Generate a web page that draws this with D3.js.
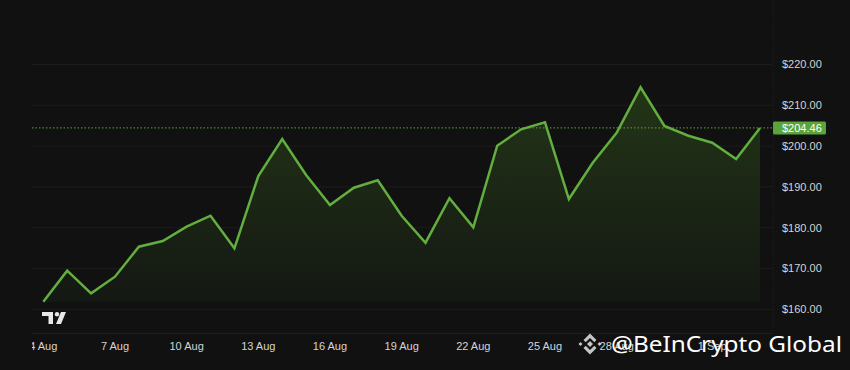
<!DOCTYPE html>
<html><head><meta charset="utf-8">
<script src="https://cdn.jsdelivr.net/npm/d3@7/dist/d3.min.js"></script>
<style>
html,body{margin:0;padding:0;background:#111111;}
svg{display:block;}
</style></head>
<body><svg id="c" width="850" height="370"></svg>
<script>
// Daily close prices, 4 Aug .. 3 Sep
const startDate = "2024-08-04";
const prices = [161.86,169.46,163.92,167.99,175.34,176.74,180.25,182.94,174.95,192.67,
  201.74,192.92,185.56,189.80,191.62,182.94,176.32,187.21,180.10,200.10,
  204.12,205.83,187.03,195.93,203.28,214.41,204.93,202.55,200.83,196.84,204.46];
const lastPrice = 204.46;
const yTicks = [160,170,180,190,200,210,220];
const xTickDates = ["2024-08-04","2024-08-07","2024-08-10","2024-08-13","2024-08-16","2024-08-19","2024-08-22","2024-08-25","2024-08-28","2024-09-01"];
const xTickLabels = ["4 Aug","7 Aug","10 Aug","13 Aug","16 Aug","19 Aug","22 Aug","25 Aug","28 Aug","1 Sep"];
const watermark = "@BeInCrypto Global";

const parse = d3.utcParse("%Y-%m-%d");
const t0 = parse(startDate);
const data = prices.map((v,i)=>({d:d3.utcDay.offset(t0,i), v}));

const svg = d3.select("#c");
const L = 32, R = 773, B = 333;
const x = d3.scaleUtc().domain([data[0].d, data[data.length-1].d]).range([43.3, 760]);
const y = d3.scaleLinear().domain([160,220]).range([309.3, 64.5]);

const defs = svg.append("defs");
defs.append("clipPath").attr("id","pane").append("rect").attr("x",L).attr("y",0).attr("width",R-L).attr("height",B);
const g = defs.append("linearGradient").attr("id","fill").attr("x1",0).attr("x2",0)
  .attr("gradientUnits","userSpaceOnUse").attr("y1",y(214.41)).attr("y2",y(d3.min(prices)));
g.append("stop").attr("offset","0%").attr("stop-color","#233517");
g.append("stop").attr("offset","100%").attr("stop-color","#141813");

// grid
svg.append("g").selectAll("line").data(yTicks).join("line")
  .attr("x1",L).attr("x2",R).attr("y1",d=>y(d)).attr("y2",d=>y(d))
  .attr("stroke","#1c1c1c").attr("stroke-width",1);
svg.append("line").attr("x1",L).attr("x2",R).attr("y1",333.5).attr("y2",333.5).attr("stroke","#1e1e1e");
svg.append("line").attr("x1",R+0.5).attr("x2",R+0.5).attr("y1",0).attr("y2",333).attr("stroke","#1e1e1e").attr("stroke-dasharray","1,2");

const pane = svg.append("g").attr("clip-path","url(#pane)");
const baseV = d3.min(prices);
pane.append("path").datum(data)
  .attr("d", d3.area().x(d=>x(d.d)).y0(y(baseV)).y1(d=>y(d.v)))
  .attr("fill","url(#fill)");
pane.append("line").attr("x1",L).attr("x2",R).attr("y1",y(lastPrice)).attr("y2",y(lastPrice))
  .attr("stroke","#5ea83a").attr("stroke-width",1).attr("stroke-dasharray","1.5,2");
pane.append("path").datum(data)
  .attr("d", d3.line().x(d=>x(d.d)).y(d=>y(d.v)))
  .attr("fill","none").attr("stroke","#62ae3e").attr("stroke-width",2.5).attr("stroke-linejoin","miter");

const font = "'Liberation Sans', Arial, sans-serif";
svg.append("g").selectAll("text").data(yTicks).join("text")
  .attr("x",782).attr("y",d=>y(d)).attr("dy","0.35em")
  .attr("font-family",font).attr("font-size",11).attr("fill","#d4d4d4")
  .text(d=>"$"+d3.format(".2f")(d));
svg.append("rect").attr("x",773).attr("y",y(lastPrice)-6.5).attr("width",53).attr("height",13).attr("rx",1.5).attr("fill","#5ba33b");
svg.append("text").attr("x",782).attr("y",y(lastPrice)).attr("dy","0.36em")
  .attr("font-family",font).attr("font-size",11).attr("fill","#ffffff").text("$"+d3.format(".2f")(lastPrice));

defs.append("clipPath").attr("id","pane2").append("rect").attr("x",L).attr("y",330).attr("width",R-L).attr("height",40);
const xg = svg.append("g").attr("clip-path","url(#pane2)");
xg.selectAll("text").data(xTickDates).join("text")
  .attr("x",d=>x(parse(d))).attr("y",346).attr("dy","0.35em").attr("text-anchor","middle")
  .attr("font-family",font).attr("font-size",11).attr("fill","#d4d4d4")
  .text((d,i)=>xTickLabels[i]);

const tv = svg.append("g").attr("fill","#e8e8e8");
tv.append("path").attr("d","M42,312 h11 v12 h-4.5 v-8 h-6.5 z");
tv.append("circle").attr("cx",57).attr("cy",314.2).attr("r",2.2);
tv.append("path").attr("d","M61,312 h5 l-5,12 h-5 z");

const wl = svg.append("g").attr("fill","#d9d9d9").attr("opacity",0.9);
const dia = (cx,cy,r)=>`M${cx},${cy-r}L${cx+r},${cy}L${cx},${cy+r}L${cx-r},${cy}Z`;
wl.append("path").attr("d",dia(590,344,3));
wl.append("path").attr("d",dia(580.5,344,2));
wl.append("path").attr("d",dia(599.5,344,2));
wl.append("path").attr("d","M590,333.5 L596.5,340 L594.3,342.2 L590,337.9 L585.7,342.2 L583.5,340 Z");
wl.append("path").attr("d","M590,354.5 L596.5,348 L594.3,345.8 L590,350.1 L585.7,345.8 L583.5,348 Z");
svg.append("text").attr("x",611).attr("y",352).attr("font-family","'Noto Sans', 'Open Sans', sans-serif")
  .attr("font-size",21.5).attr("fill","#ffffff").attr("textLength",231).attr("lengthAdjust","spacingAndGlyphs").text(watermark);
</script></body></html>
